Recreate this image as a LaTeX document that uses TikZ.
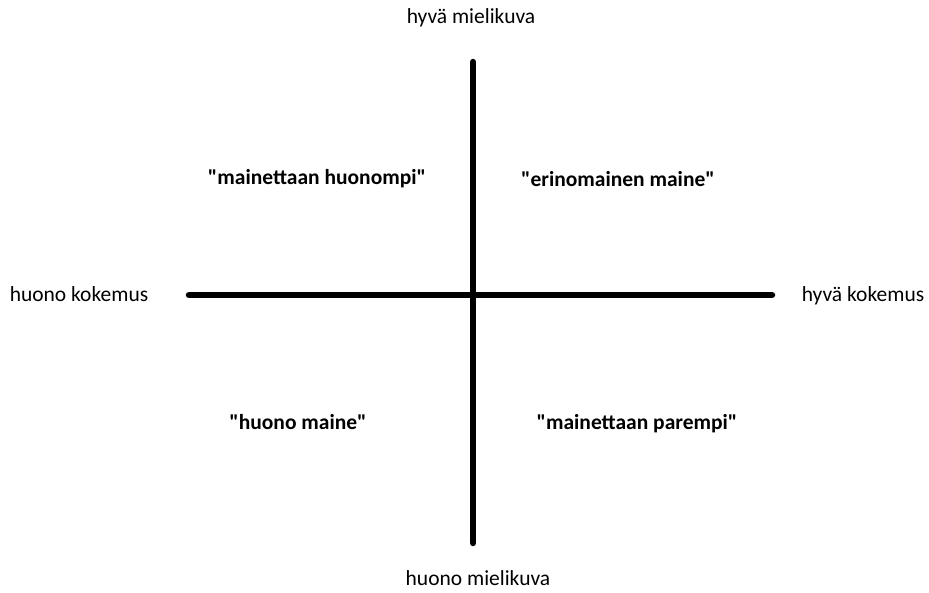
\documentclass[tikz,border=0pt]{standalone}
\usepackage{fontspec}
\setmainfont{Carlito}
\begin{document}
\begin{tikzpicture}[x=1pt,y=-1pt,
  lbl/.style={font=\fontsize{21.5}{24}\selectfont, inner sep=0pt},
  qlbl/.style={font=\fontsize{21.5}{24}\selectfont\bfseries, inner sep=0pt},
  axis/.style={line width=6.5pt, line cap=round}]
\useasboundingbox[fill=white] (0,0) rectangle (929,592);
\coordinate (vt) at (473,62);
\coordinate (vb) at (473,543);
\coordinate (hl) at (189,295);
\coordinate (hr) at (772,295);
\draw[axis] (vt) -- (vb);
\draw[axis] (hl) -- (hr);
\node[lbl, anchor=base] (top) at (471,23) {hyvä mielikuva};
\node[lbl, anchor=base] (bot) at (478,585) {huono mielikuva};
\node[lbl, anchor=base] (left) at (79,301) {huono kokemus};
\node[lbl, anchor=base] (right) at (863,301) {hyvä kokemus};
\node[qlbl, anchor=base] (q1) at (317,184) {\textquotedbl mainettaan huonompi\textquotedbl};
\node[qlbl, anchor=base] (q2) at (618,186) {\textquotedbl erinomainen maine\textquotedbl};
\node[qlbl, anchor=base] (q3) at (298,429) {\textquotedbl huono maine\textquotedbl};
\node[qlbl, anchor=base] (q4) at (637,429) {\textquotedbl mainettaan parempi\textquotedbl};
\end{tikzpicture}
\end{document}
